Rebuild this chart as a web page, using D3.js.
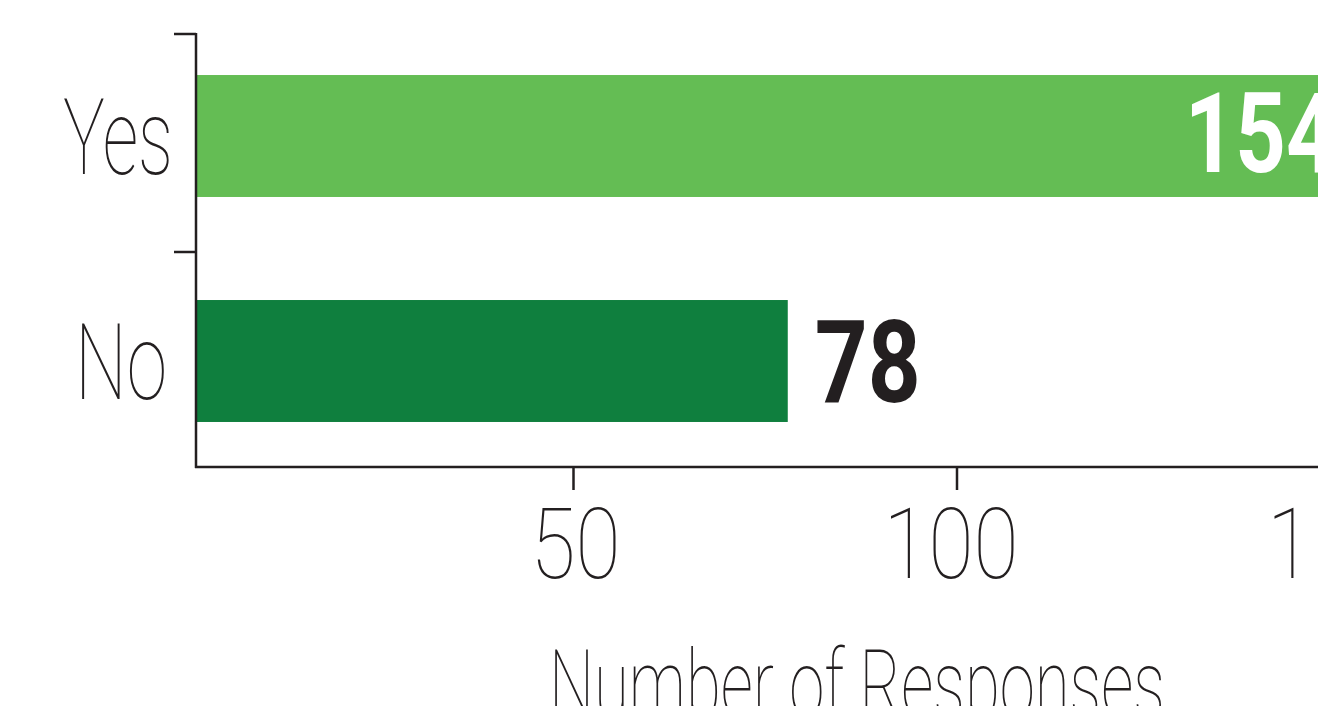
<!DOCTYPE html>
<html><head><meta charset="utf-8">
<script src="https://cdn.jsdelivr.net/npm/d3@7"></script>
<style>
html,body{margin:0;padding:0;background:#fff;overflow:hidden}
svg{display:block}
text{font-family:Roboto,"Noto Sans",sans-serif}
</style></head>
<body>
<svg id="chart" width="1318" height="706"></svg>
<script>
const categories = ["Yes", "No"];
const values = [154, 78];
const xTickValues = [50, 100, 150];
const barColors = ["#64bd54", "#0f7f3e"];
const labelColors = ["#ffffff", "#231f20"];
const xTitle = "Number of Responses";

const svg = d3.select("#chart");
const ink = "#231f20";

const x = d3.scaleLinear().domain([0, 150]).range([189.5, 189.5 + 150 * 7.67]);
const yBar = d3.scaleBand().domain(categories).range([23.5, 473.5]).paddingInner(0.458).paddingOuter(0.229);
const yTick = d3.scaleBand().domain(categories).range([34, 470]);

const axisX0 = 196, axisY = 467;

// bars
svg.selectAll("rect.bar").data(categories).join("rect")
  .attr("class", "bar")
  .attr("x", axisX0 + 1)
  .attr("y", d => yBar(d))
  .attr("width", (d, i) => x(values[i]) - axisX0 - 1)
  .attr("height", yBar.bandwidth())
  .attr("fill", (d, i) => barColors[i]);

// value labels (inside for the long bar, outside for the short one)
svg.selectAll("text.val").data(categories).join("text")
  .attr("class", "val")
  .attr("x", (d, i) => i === 0 ? x(values[i]) - 186 : x(values[i]) + 27)
  .attr("y", (d, i) => i === 0 ? 172 : 402)
  .attr("font-size", (d, i) => i === 0 ? 112 : 115)
  .attr("font-weight", 700)
  .attr("fill", (d, i) => labelColors[i])
  .attr("textLength", (d, i) => i === 0 ? 152 : 106)
  .attr("lengthAdjust", "spacingAndGlyphs")
  .text((d, i) => values[i]);

// x axis
const xAxis = d3.axisBottom(x).tickValues(xTickValues).tickSize(23).tickSizeOuter(0).tickPadding(0);
const gx = svg.append("g").attr("transform", `translate(0,${axisY})`).call(xAxis);
gx.select(".domain").remove();
gx.selectAll(".tick line").attr("stroke", ink).attr("stroke-width", 2.5);
gx.selectAll(".tick text").remove();
gx.selectAll(".tick").append("text")
  .attr("y", 111)
  .attr("x", d => String(d).length > 2 ? -6 : 2)
  .attr("text-anchor", "middle")
  .attr("font-size", 98)
  .attr("font-weight", 100)
  .attr("fill", ink)
  .attr("textLength", d => String(d).length * 45)
  .attr("lengthAdjust", "spacingAndGlyphs")
  .text(d => d);
svg.append("line").attr("x1", axisX0 - 1).attr("x2", 1318).attr("y1", axisY).attr("y2", axisY)
  .attr("stroke", ink).attr("stroke-width", 2.5);

// y axis
svg.append("line").attr("x1", axisX0).attr("x2", axisX0).attr("y1", 33).attr("y2", axisY + 1)
  .attr("stroke", ink).attr("stroke-width", 2.5);
svg.selectAll("line.ytick").data(categories).join("line")
  .attr("class", "ytick")
  .attr("x1", axisX0 - 22).attr("x2", axisX0)
  .attr("y1", d => yTick(d)).attr("y2", d => yTick(d))
  .attr("stroke", ink).attr("stroke-width", 2.5);
svg.selectAll("text.ylab").data(categories).join("text")
  .attr("class", "ylab")
  .attr("x", (d, i) => i === 0 ? 173 : 167)
  .attr("y", d => yBar(d) + yBar.bandwidth() / 2 + 38)
  .attr("text-anchor", "end")
  .attr("font-size", 105)
  .attr("font-weight", 100)
  .attr("fill", ink)
  .attr("textLength", (d, i) => i === 0 ? 110 : 92)
  .attr("lengthAdjust", "spacingAndGlyphs")
  .text(d => d);

// x title
svg.append("text")
  .attr("x", 549).attr("y", 717)
  .attr("font-size", 95)
  .attr("font-weight", 100)
  .attr("fill", ink)
  .attr("textLength", 616)
  .attr("lengthAdjust", "spacingAndGlyphs")
  .text(xTitle);
</script>
</body></html>
